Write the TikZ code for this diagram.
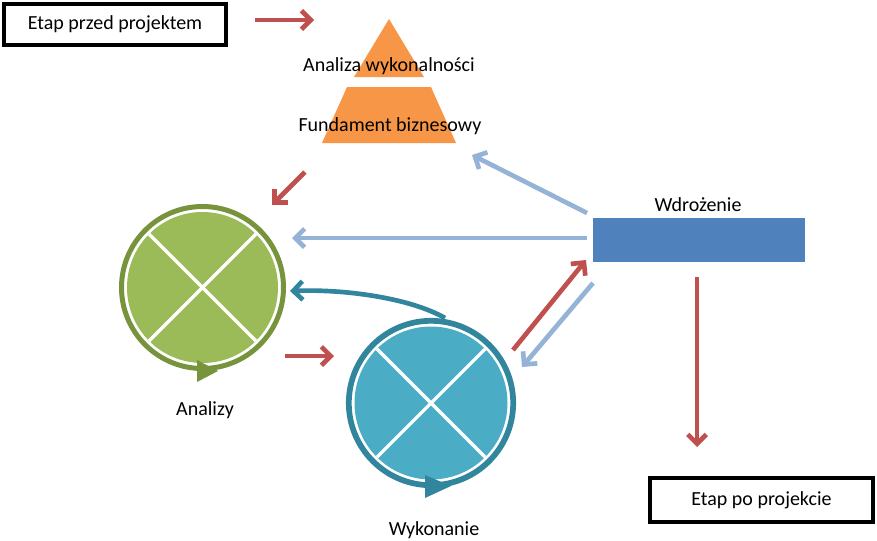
\documentclass[tikz,border=0pt]{standalone}
\usepackage{fontspec}
\setmainfont{Carlito}
\usetikzlibrary{arrows.meta,calc}
\definecolor{cred}{HTML}{C0504D}
\definecolor{clblue}{HTML}{95B3D7}
\definecolor{cteal}{HTML}{31859C}
\definecolor{ctealfill}{HTML}{4BACC6}
\definecolor{cgreen}{HTML}{77933C}
\definecolor{cgreenfill}{HTML}{9BBB59}
\definecolor{cblue}{HTML}{4F81BD}
\definecolor{corange}{HTML}{F79646}
\tikzset{
  stagebox/.style={draw=black, line width=3pt, fill=white, minimum width=#1, minimum height=31pt, inner sep=0pt, font=\fontsize{15pt}{18pt}\selectfont},
  lbl/.style={inner sep=0pt, font=\fontsize{15pt}{18pt}\selectfont},
  arr/.style={line width=3.5pt, -{Straight Barb[length=7pt,width=14pt]}, draw=#1},
}
\begin{document}
\begin{tikzpicture}[x=0.75pt,y=-0.75pt]
\useasboundingbox (0,0) rectangle (877,540);

% stage boxes
\node[stagebox=167pt] (pre) at (115,24.5) {Etap przed projektem};
\node[stagebox=167pt, minimum height=33pt] (post) at (761.5,500) {Etap po projekcie};

% pyramid
\fill[corange] (389,19) -- (424,77) -- (354,77) -- cycle;
\fill[corange] (347,87) -- (431,87) -- (456,143) -- (322,143) -- cycle;
\node[lbl] (fw) at (389,66) {Analiza wykonalności};
\node[lbl] (fb) at (390,126) {Fundament biznesowy};

% Wdrozenie
\node[fill=cblue, minimum width=159pt, minimum height=33pt, inner sep=0pt] (wd) at (699,240) {};
\node[lbl] (wdl) at (698,205) {Wdrożenie};

% Analizy circle
\coordinate (ca) at (202.5,287.5);
\draw[cgreen, line width=3.75pt] (ca) circle[radius=81];
\fill[cgreenfill] (ca) circle[radius=75.5];
\draw[white, line width=2.4pt] ($(ca)+(-53.4,-53.4)$) -- ($(ca)+(53.4,53.4)$);
\draw[white, line width=2.4pt] ($(ca)+(-53.4,53.4)$) -- ($(ca)+(53.4,-53.4)$);
\fill[cgreen] (197,360) -- (218,371) -- (197,382) -- cycle;
\node[lbl] (al) at (205,410) {Analizy};

% Wykonanie circle
\coordinate (cw) at (431,403);
\draw[cteal, line width=4.3pt] (cw) circle[radius=82.2];
\fill[ctealfill] (cw) circle[radius=76.5];
\draw[white, line width=2.4pt] ($(cw)+(-54.1,-54.1)$) -- ($(cw)+(54.1,54.1)$);
\draw[white, line width=2.4pt] ($(cw)+(-54.1,54.1)$) -- ($(cw)+(54.1,-54.1)$);
\fill[cteal] (425,475) -- (451,486) -- (425,498) -- cycle;
\node[lbl] (wl) at (434,530) {Wykonanie};

% arrow end points
\coordinate (a1s) at (255,20);   \coordinate (a1e) at (314,20);
\coordinate (a2s) at (305,172);  \coordinate (a2e) at (272,205);
\coordinate (a3s) at (587,213);  \coordinate (a3e) at (472,155);
\coordinate (a4s) at (587,238);  \coordinate (a4e) at (292,238);
\coordinate (a5s) at (285,356);  \coordinate (a5e) at (334,356);
\coordinate (a6s) at (513,350);  \coordinate (a6e) at (586,260);
\coordinate (a7s) at (593,283);  \coordinate (a7e) at (522,367);
\coordinate (a8s) at (697,277);  \coordinate (a8e) at (697,447);
\coordinate (a9s) at (445,318);  \coordinate (a9e) at (290,291);

\draw[arr=cred] (a1s) -- (a1e);
\draw[arr=cred] (a2s) -- (a2e);
\draw[arr=clblue] (a3s) -- (a3e);
\draw[arr=clblue] (a4s) -- (a4e);
\draw[arr=cred] (a5s) -- (a5e);
\draw[arr=cred] (a6s) -- (a6e);
\draw[arr=clblue] (a7s) -- (a7e);
\draw[arr=cred] (a8s) -- (a8e);
\draw[arr=cteal] (a9s) .. controls (410,298) and (345,289) .. (a9e);
\end{tikzpicture}
\end{document}
